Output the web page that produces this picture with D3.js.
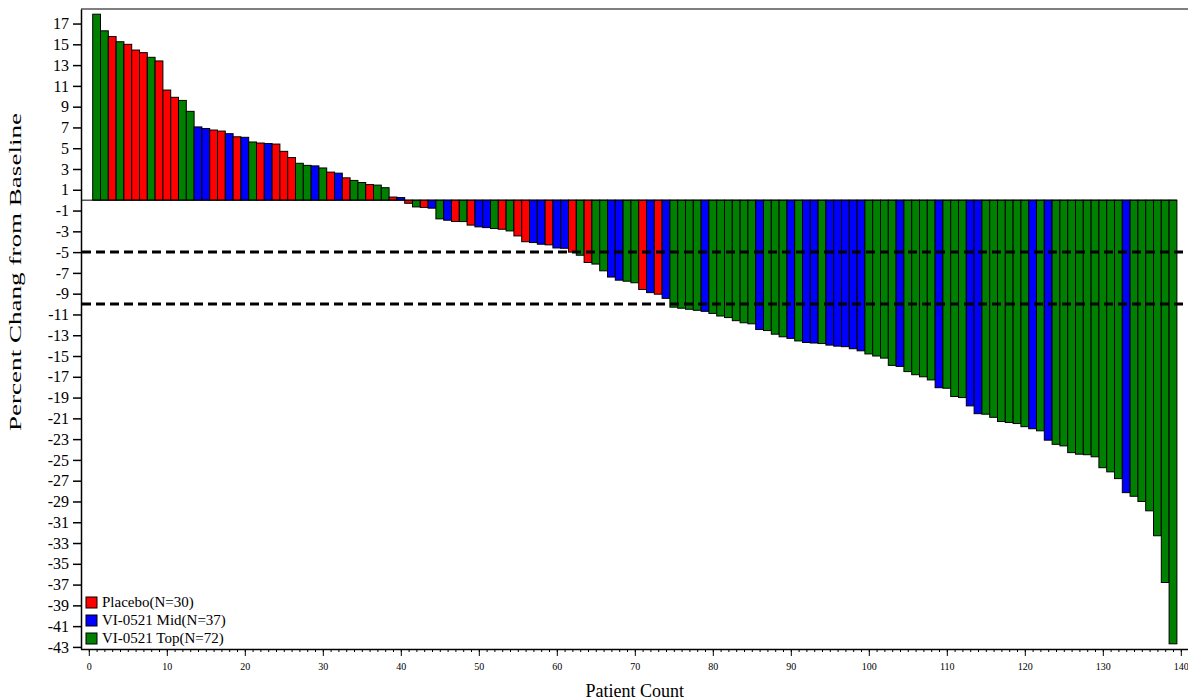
<!DOCTYPE html>
<html>
<head>
<meta charset="utf-8">
<script src="https://cdn.jsdelivr.net/npm/d3@7"></script>
<style>
  html, body { margin: 0; padding: 0; background: #fff; }
  svg { display: block; }
  text { font-family: "Liberation Serif", "Times New Roman", serif; fill: #000; }
</style>
</head>
<body>
<svg id="chart" width="1188" height="700"></svg>
<script>
// Treatment arms and legend labels
const arms = ["Placebo", "Mid", "Top"];
const armLabels = ["Placebo(N=30)", "VI-0521 Mid(N=37)", "VI-0521 Top(N=72)"];

// Percent change from baseline per patient, sorted descending
const pctChange = [
  17.9, 16.3, 15.75, 15.25, 15.0, 14.45, 14.2, 13.75, 13.4, 10.6,
  9.9, 9.6, 8.55, 7.05, 6.9, 6.75, 6.65, 6.4, 6.1, 6.05,
  5.6, 5.5, 5.45, 5.4, 4.7, 4.1, 3.55, 3.35, 3.3, 3.1,
  2.7, 2.6, 2.15, 1.9, 1.7, 1.5, 1.45, 1.2, 0.3, 0.25,
  -0.3, -0.65, -0.7, -0.77, -1.8, -1.93, -2.05, -2.06, -2.4, -2.57,
  -2.64, -2.73, -2.8, -2.96, -3.44, -4.0, -4.08, -4.24, -4.3, -4.6,
  -4.63, -5.0, -5.3, -6.0, -6.15, -6.8, -7.4, -7.7, -7.8, -7.95,
  -8.6, -8.9, -9.05, -9.45, -10.3, -10.4, -10.5, -10.6, -10.7, -10.9,
  -11.15, -11.3, -11.6, -11.8, -11.9, -12.45, -12.55, -12.9, -13.15, -13.3,
  -13.55, -13.7, -13.75, -13.8, -13.95, -14.05, -14.1, -14.3, -14.5, -14.8,
  -15.0, -15.2, -15.9, -16.0, -16.5, -16.8, -17.0, -17.3, -18.05, -18.1,
  -18.9, -19.0, -19.8, -20.55, -20.6, -20.9, -21.3, -21.4, -21.5, -21.8,
  -22.0, -22.2, -23.1, -23.5, -23.65, -24.3, -24.45, -24.5, -24.7, -25.75,
  -26.15, -26.8, -28.15, -28.5, -29.0, -29.9, -32.3, -36.8, -42.7
];

// Arm of each patient, same order as pctChange (P = Placebo, M = Mid, T = Top)
const patientArm = (
  "TTPTPPPTPP" + "PTTMMPPMPM" + "TPMPPPTTMT" + "PMPTTPTTPM" +
  "PTPMTMPTPM" + "MTPTPPMMPM" + "MPTPTTMMTT" + "PMPMTTTTMT" +
  "TTTTTMTTTM" + "TMMTMMMMMT" + "TTTMTTTTMT" + "TTMMTTTTTT" +
  "MTMTTTTTTT" + "TTMTTTTTT"
).split("");

// Response thresholds
const thresholds = [-5, -10];

// Axis ticks
const yTicks = d3.range(17, -44, -2);
const xMajorTicks = d3.range(0, 141, 10);
const xMinorTicks = d3.range(0, 141, 1);

const armCode = { P: "Placebo", M: "Mid", T: "Top" };
const armColor = { Placebo: "#ff0000", Mid: "#0000ff", Top: "#008000" };

const data = pctChange.map((v, i) => ({
  n: i + 1,
  value: v,
  arm: armCode[patientArm[i]]
}));

const svg = d3.select("#chart");

const x = d3.scaleLinear().domain([-1, 141]).range([81, 1188.6]);
const y = d3.scaleLinear().domain([18.4, -43.2]).range([9, 649]);

const plotLeft = x(-1), plotRight = 1188, plotTop = y(18.4), plotBottom = y(-43.2);

// Bars
svg.append("g")
  .selectAll("rect")
  .data(data)
  .join("rect")
  .attr("x", d => x(d.n - 0.5))
  .attr("width", d => x(d.n + 0.5) - x(d.n - 0.5))
  .attr("y", d => y(Math.max(0, d.value)))
  .attr("height", d => Math.abs(y(d.value) - y(0)))
  .attr("fill", d => armColor[d.arm])
  .attr("stroke", "#000")
  .attr("stroke-width", 1);

// Zero line
svg.append("line")
  .attr("x1", plotLeft).attr("x2", x(139.5))
  .attr("y1", y(0)).attr("y2", y(0))
  .attr("stroke", "#000").attr("stroke-width", 1);

// Threshold lines
svg.append("g")
  .selectAll("line")
  .data(thresholds)
  .join("line")
  .attr("x1", plotLeft + 1).attr("x2", plotRight)
  .attr("y1", d => y(d)).attr("y2", d => y(d))
  .attr("stroke", "#000")
  .attr("stroke-width", 3)
  .attr("stroke-dasharray", "9,5");

// Frame: top edge
svg.append("line")
  .attr("x1", plotLeft).attr("x2", plotRight)
  .attr("y1", plotTop).attr("y2", plotTop)
  .attr("stroke", "#000").attr("stroke-width", 1);

// Y axis
const yAxis = d3.axisLeft(y)
  .tickValues(yTicks)
  .tickFormat(d => String(d))
  .tickSize(8)
  .tickPadding(4)
  .tickSizeOuter(0);
const gy = svg.append("g")
  .attr("transform", `translate(${plotLeft},0)`)
  .call(yAxis);
gy.select(".domain").attr("stroke", "#000").attr("stroke-width", 1.5);
gy.selectAll(".tick line").attr("stroke-width", 1.5);
gy.selectAll("text")
  .attr("font-family", "Liberation Serif, serif")
  .attr("font-size", 16);

// X axis: minor ticks every patient, labelled ticks every 10
const gxMinor = svg.append("g")
  .attr("transform", `translate(0,${plotBottom})`)
  .call(d3.axisBottom(x).tickValues(xMinorTicks).tickFormat("").tickSize(3).tickSizeOuter(0));
gxMinor.select(".domain").remove();

const gx = svg.append("g")
  .attr("transform", `translate(0,${plotBottom})`)
  .call(d3.axisBottom(x)
    .tickValues(xMajorTicks)
    .tickFormat(d => String(d))
    .tickSize(7)
    .tickPadding(7)
    .tickSizeOuter(0));
gx.select(".domain").attr("d", `M${plotLeft},0.5H${plotRight}`).attr("stroke-width", 1.5);
gx.selectAll("text")
  .attr("font-family", "Liberation Serif, serif")
  .attr("font-size", 10);

// Axis titles
svg.append("text")
  .attr("x", x(70))
  .attr("y", 697)
  .attr("text-anchor", "middle")
  .attr("font-size", 18)
  .text("Patient Count");

svg.append("text")
  .attr("transform", "translate(21,272) rotate(-90)")
  .attr("text-anchor", "middle")
  .attr("font-size", 16)
  .attr("textLength", 318)
  .attr("lengthAdjust", "spacingAndGlyphs")
  .text("Percent Chang from Baseline");

// Legend
const legend = svg.append("g")
  .attr("transform", "translate(86,597)");
const items = legend.selectAll("g")
  .data(arms)
  .join("g")
  .attr("transform", (d, i) => `translate(0,${i * 18})`);
items.append("rect")
  .attr("width", 11).attr("height", 11)
  .attr("fill", d => armColor[d])
  .attr("stroke", "#000").attr("stroke-width", 1);
items.append("text")
  .attr("x", 16).attr("y", 10)
  .attr("font-size", 15)
  .text((d, i) => armLabels[i]);
</script>
</body>
</html>
